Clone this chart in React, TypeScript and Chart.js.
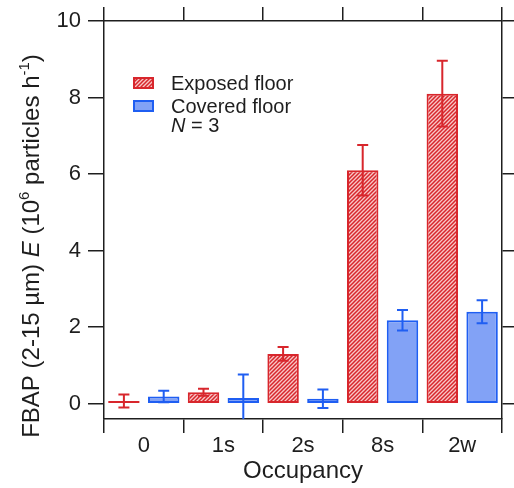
import React, { useEffect, useRef } from 'react';
import { Chart, registerables } from 'chart.js';

Chart.register(...registerables);

const categories = ['0', '1s', '2s', '8s', '2w'];
const exposedMeans = [0.07, 0.3, 1.3, 6.1, 8.1];
const exposedErrors = [0.17, 0.09, 0.18, 0.66, 0.86];
const coveredMeans = [0.19, 0.15, 0.13, 2.18, 2.4];
const coveredErrors = [0.15, 0.61, 0.24, 0.27, 0.3];
const yTicks = [0, 2, 4, 6, 8, 10];
const seriesNames = ['Exposed floor', 'Covered floor'];
const sampleNote = '= 3';
const xTitle = 'Occupancy';

const RED = '#d8262c';
const BLUE_LINE = '#1f5ef2';
const BLUE_FILL = '#82a2f6';
const AXIS = '#1e1e1e';
const TEXT = '#1e1e1e';
const FONT = "'Liberation Sans', Arial, Helvetica, sans-serif";

function makeHatch(): CanvasPattern | string {
  const c = document.createElement('canvas');
  const s = 4;
  c.width = s;
  c.height = s;
  const g = c.getContext('2d');
  if (!g) return RED;
  g.fillStyle = '#f8c6c6';
  g.fillRect(0, 0, s, s);
  g.strokeStyle = RED;
  g.lineWidth = 1.5;
  g.beginPath();
  g.moveTo(-1, s + 1);
  g.lineTo(s + 1, -1);
  g.moveTo(-1, 1);
  g.lineTo(1, -1);
  g.moveTo(s - 1, s + 1);
  g.lineTo(s + 1, s - 1);
  g.stroke();
  const p = g.createPattern(c, 'repeat');
  return p || RED;
}

const errorBarPlugin = {
  id: 'errorBars',
  afterDatasetsDraw(chart: any) {
    const ctx = chart.ctx;
    const yScale = chart.scales.y;
    const area = chart.chartArea;
    const errs = [exposedErrors, coveredErrors];
    const means = [exposedMeans, coveredMeans];
    const colors = [RED, BLUE_LINE];
    ctx.save();
    ctx.beginPath();
    ctx.rect(area.left, area.top, area.right - area.left, area.bottom - area.top);
    ctx.clip();
    for (let d = 0; d < 2; d++) {
      const meta = chart.getDatasetMeta(d);
      ctx.strokeStyle = colors[d];
      ctx.lineWidth = 2;
      meta.data.forEach((el: any, i: number) => {
        const x = el.x;
        const top = yScale.getPixelForValue(means[d][i] + errs[d][i]);
        const bot = yScale.getPixelForValue(means[d][i] - errs[d][i]);
        const half = 5.5;
        ctx.beginPath();
        ctx.moveTo(x, top);
        ctx.lineTo(x, bot);
        ctx.moveTo(x - half, top);
        ctx.lineTo(x + half, top);
        ctx.moveTo(x - half, bot);
        ctx.lineTo(x + half, bot);
        ctx.stroke();
      });
    }
    ctx.restore();
  },
};

const annotationPlugin = {
  id: 'annotations',
  afterDraw(chart: any) {
    const ctx = chart.ctx;
    ctx.save();
    // Legend
    const sx = 134;
    const sw = 19;
    const sh = 10;
    const rows = [83, 106];
    const hatch = makeHatch();
    ctx.lineWidth = 2;
    ctx.fillStyle = hatch as any;
    ctx.fillRect(sx, rows[0] - sh / 2, sw, sh);
    ctx.strokeStyle = RED;
    ctx.strokeRect(sx, rows[0] - sh / 2, sw, sh);
    ctx.fillStyle = BLUE_FILL;
    ctx.fillRect(sx, rows[1] - sh / 2, sw, sh);
    ctx.strokeStyle = BLUE_LINE;
    ctx.strokeRect(sx, rows[1] - sh / 2, sw, sh);
    ctx.fillStyle = TEXT;
    ctx.textBaseline = 'alphabetic';
    ctx.textAlign = 'left';
    ctx.font = `20px ${FONT}`;
    ctx.fillText(seriesNames[0], 171, rows[0] + 7);
    ctx.fillText(seriesNames[1], 171, rows[1] + 7);
    ctx.font = `italic 20px ${FONT}`;
    ctx.fillText('N', 171, 132);
    const nw = ctx.measureText('N').width;
    ctx.font = `20px ${FONT}`;
    ctx.fillText(' ' + sampleNote, 171 + nw, 132);

    // Y title with rich text
    const segs: { t: string; f: string; dy: number }[] = [
      { t: 'FBAP (2-15 µm) ', f: `24px ${FONT}`, dy: 0 },
      { t: 'E', f: `italic 24px ${FONT}`, dy: 0 },
      { t: ' (10', f: `24px ${FONT}`, dy: 0 },
      { t: '6', f: `15px ${FONT}`, dy: -10 },
      { t: ' particles h', f: `24px ${FONT}`, dy: 0 },
      { t: '-1', f: `15px ${FONT}`, dy: -10 },
      { t: ')', f: `24px ${FONT}`, dy: 0 },
    ];
    let total = 0;
    const widths = segs.map((s) => {
      ctx.font = s.f;
      const w = ctx.measureText(s.t).width;
      total += w;
      return w;
    });
    ctx.translate(39, 246);
    ctx.rotate(-Math.PI / 2);
    let cx = -total / 2;
    segs.forEach((s, i) => {
      ctx.font = s.f;
      ctx.fillText(s.t, cx, s.dy);
      cx += widths[i];
    });
    ctx.restore();
  },
};

export default function App() {
  const ref = useRef<HTMLCanvasElement | null>(null);

  useEffect(() => {
    const canvas = ref.current;
    if (!canvas) return;
    const hatch = makeHatch();
    const tickFont = { family: FONT, size: 22 };
    const gridCommon = {
      drawOnChartArea: false,
      drawTicks: true,
      color: AXIS,
      lineWidth: 1.5,
    };
    const chart = new Chart(canvas, {
      type: 'bar',
      data: {
        labels: categories,
        datasets: [
          {
            label: seriesNames[0],
            data: exposedMeans,
            backgroundColor: hatch as any,
            borderColor: RED,
            borderWidth: 2,
            borderSkipped: false,
            barPercentage: 0.79,
            categoryPercentage: 1,
            xAxisID: 'x',
            yAxisID: 'y',
          },
          {
            label: seriesNames[1],
            data: coveredMeans,
            backgroundColor: BLUE_FILL,
            borderColor: BLUE_LINE,
            borderWidth: 2,
            borderSkipped: false,
            barPercentage: 0.79,
            categoryPercentage: 1,
            xAxisID: 'x',
            yAxisID: 'y',
          },
        ],
      },
      options: {
        responsive: false,
        maintainAspectRatio: false,
        animation: false,
        layout: { padding: 0 },
        plugins: {
          legend: { display: false },
          tooltip: { enabled: false },
          title: { display: false },
        },
        scales: {
          x: {
            type: 'category',
            position: 'bottom',
            offset: true,
            grid: { ...gridCommon, offset: true, tickLength: 14 },
            border: { display: true, color: AXIS, width: 1.5 },
            ticks: { font: tickFont, color: TEXT, padding: 0, maxRotation: 0 },
            title: {
              display: true,
              text: xTitle,
              font: { family: FONT, size: 24 },
              color: TEXT,
              padding: { top: 0, bottom: 2 },
            },
            afterFit: (s: any) => {
              s.height = 69;
            },
          },
          x2: {
            type: 'category',
            position: 'top',
            offset: true,
            grid: { ...gridCommon, offset: true, tickLength: 14 },
            border: { display: true, color: AXIS, width: 1.5 },
            ticks: { display: false },
            afterFit: (s: any) => {
              s.height = 21;
            },
          },
          y: {
            type: 'linear',
            position: 'left',
            min: -0.4,
            max: 10,
            grid: { ...gridCommon, tickLength: 16 },
            border: { display: true, color: AXIS, width: 1.5 },
            ticks: { font: tickFont, color: TEXT, padding: 7 },
            afterBuildTicks: (s: any) => {
              s.ticks = yTicks.map((v) => ({ value: v }));
            },
            afterFit: (s: any) => {
              s.width = 104;
            },
          },
          y2: {
            type: 'linear',
            position: 'right',
            min: -0.4,
            max: 10,
            grid: { ...gridCommon, tickLength: 12 },
            border: { display: true, color: AXIS, width: 1.5 },
            ticks: { display: false },
            afterBuildTicks: (s: any) => {
              s.ticks = yTicks.map((v) => ({ value: v }));
            },
            afterFit: (s: any) => {
              s.width = 12;
            },
          },
        },
      } as any,
      plugins: [errorBarPlugin, annotationPlugin],
    });
    return () => chart.destroy();
  }, []);

  return (
    <div style={{ position: 'absolute', left: 0, top: 0, width: 514, height: 488, background: '#fff' }}>
      <canvas ref={ref} width={514} height={488} style={{ width: 514, height: 488, display: 'block' }} />
    </div>
  );
}
